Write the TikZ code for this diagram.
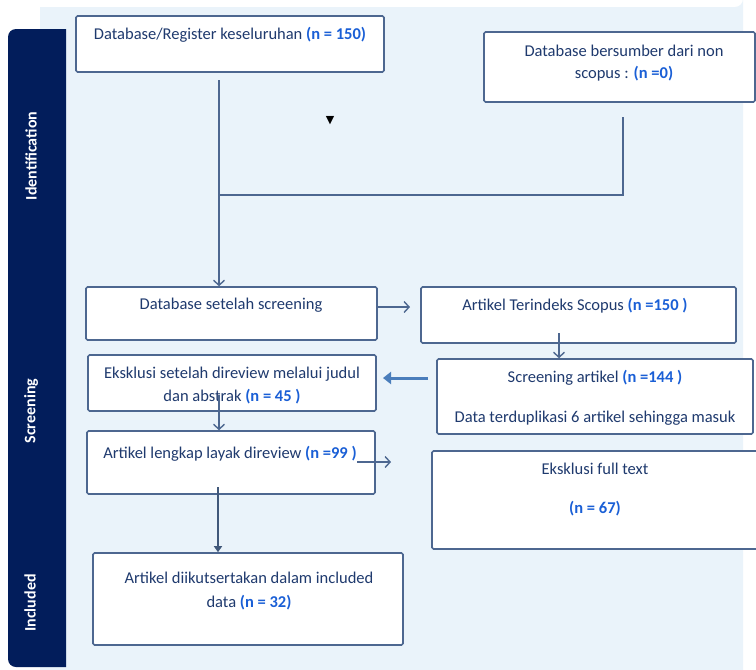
\documentclass[tikz,border=0pt]{standalone}
\usepackage{fontspec}
\setmainfont{Carlito}
\newfontfamily\symfont{DejaVu Sans}
\usetikzlibrary{arrows.meta}
\definecolor{panel}{HTML}{EAF3FA}
\definecolor{navy}{HTML}{021D5B}
\definecolor{edge}{HTML}{4D6790}
\definecolor{txt}{HTML}{1F3A6E}
\definecolor{nblue}{HTML}{1A5FD6}
\definecolor{thickblue}{HTML}{4A7DBB}
\tikzset{
  x=1pt, y=-1pt,
  box/.style={draw=edge, line width=1.6pt, fill=white, rounded corners=1.5pt, inner sep=0pt},
  lbl/.style={text=txt, font=\fontsize{16.5}{19}\selectfont, align=center, inner sep=0pt},
  side/.style={text=white, font=\fontsize{16}{19}\selectfont\bfseries, rotate=90, inner sep=0pt},
  conn/.style={draw=edge, line width=1.4pt},
  arr/.style={conn, -{Straight Barb[length=5pt,width=11pt,line width=1.4pt]}},
  thickarr/.style={draw=thickblue, line width=3pt, -{Triangle[length=8pt,width=12pt]}},
  darkarr/.style={draw=edge!85!black, line width=2.4pt, -{Triangle[length=6pt,width=8pt]}},
}
\newcommand{\nv}[1]{\textcolor{nblue}{\bfseries #1}}
\begin{document}
\begin{tikzpicture}
\clip (0,0) rectangle (756,670);
\useasboundingbox (0,0) rectangle (756,670);
\fill[white] (0,0) rectangle (756,670);
% background panel
\fill[panel] (40,7) -- (735,7) arc[start angle=90,end angle=0,radius=8] -- (743,675) -- (40,675) -- cycle;
% sidebar
\fill[navy] (66,29) [rounded corners=8pt]-- (8,29) -- (8,667) [sharp corners]-- (66,667) -- cycle;
\node[side] (sidI) at (31,156) {Identification};
\node[side] (sidS) at (31,411) {Screening};
\node[side] (sidN) at (30,603) {Included};

% boxes
\node[box, minimum width=308pt, minimum height=56pt] (b1) at (230,44) {};
\node[box, minimum width=271pt, minimum height=70pt] (b2) at (619.5,67) {};
\node[box, minimum width=291pt, minimum height=53pt] (b3) at (231.5,313.5) {};
\node[box, minimum width=315pt, minimum height=56pt] (b4) at (578.5,315) {};
\node[box, minimum width=288pt, minimum height=56pt] (b5) at (232,383) {};
\node[box, minimum width=316pt, minimum height=75pt] (b6) at (595,396.5) {};
\node[box, minimum width=288pt, minimum height=63pt] (b7) at (231,462.5) {};
\node[box, minimum width=330pt, minimum height=98pt] (b8) at (597,500) {};
\node[box, minimum width=310pt, minimum height=92pt] (b9) at (248,599) {};

% texts
\node[lbl] (t1) at (230,35) {Database/Register keseluruhan \nv{(n = 150)}};
\node[lbl] (t2a) at (624,51) {Database bersumber dari non};
\node[lbl] (t2b) at (624,74) {scopus : \nv{(n =0)}};
\node[lbl] (t3) at (231,305) {Database setelah screening};
\node[lbl] (t4) at (575,306) {Artikel Terindeks Scopus \nv{(n =150 )}};
\node[lbl] (t5a) at (232,374) {Eksklusi setelah direview melalui judul};
\node[lbl] (t5b) at (232,397) {dan abstrak \nv{(n = 45 )}};
\node[lbl] (t6a) at (595,378) {Screening artikel \nv{(n =144 )}};
\node[lbl] (t6b) at (595,418) {Data terduplikasi 6 artikel sehingga masuk};
\node[lbl] (t7) at (230,454) {Artikel lengkap layak direview \nv{(n =99 )}};
\node[lbl] (t8a) at (595,469) {Eksklusi full text};
\node[lbl] (t8b) at (595,509) {\nv{(n = 67)}};
\node[lbl] (t9a) at (249,578) {Artikel diikutsertakan dalam included};
\node[lbl] (t9b) at (249,603) {data \nv{(n = 32)}};
\node[inner sep=0pt, font=\symfont\fontsize{11}{13}\selectfont] (tri) at (330,121) {▼};

% connectors
\coordinate (c1) at (219,80);
\draw[arr] (c1) -- (c1 |- b3.north);
\coordinate (c2) at (623,117);
\coordinate (c3) at (219,195);
\draw[conn] (c2) |- (c3);
\coordinate (c4) at (410,307);
\draw[arr] (b3.east |- c4) -- (c4);
\coordinate (c5) at (559,333);
\draw[arr] (c5) -- (c5 |- b6.north);
\coordinate (c6) at (428,378);
\coordinate (c7) at (383,378);
\draw[thickarr] (c6) -- (c7);
\coordinate (c8) at (219,395);
\draw[arr] (c8) -- (c8 |- b7.north);
\coordinate (c9) at (357,462);
\coordinate (c10) at (391,462);
\draw[arr] (c9) -- (c10);
\coordinate (c11) at (218,487);
\draw[darkarr] (c11) -- (c11 |- b9.north);
\end{tikzpicture}
\end{document}
